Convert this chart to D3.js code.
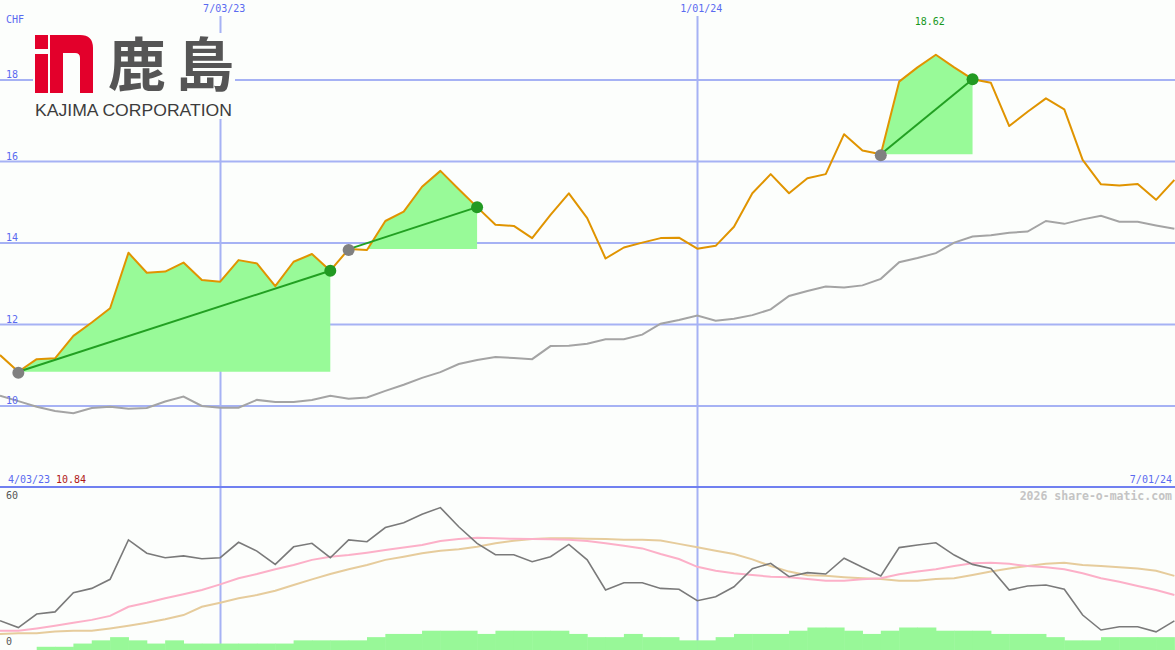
<!DOCTYPE html>
<html>
<head>
<meta charset="utf-8">
<script src="https://cdn.jsdelivr.net/npm/d3@7"></script>
<style>
  body { margin: 0; background: #fcfefc; }
  svg { display: block; }
</style>
</head>
<body>
<svg width="1175" height="650"></svg>
<script>
// weekly closes, CHF (Mondays 10 Apr 2023 .. 1 Jul 2024)
var price = [11.25, 10.84, 11.15, 11.17, 11.72, 12.05, 12.40, 13.76, 13.27, 13.30,
             13.52, 13.09, 13.05, 13.58, 13.50, 12.94, 13.54, 13.73, 13.32, 13.85,
             13.83, 14.54, 14.77, 15.38, 15.77, 15.32, 14.88, 14.45, 14.42, 14.12,
             14.69, 15.22, 14.61, 13.62, 13.89, 14.01, 14.12, 14.13, 13.86, 13.93,
             14.40, 15.22, 15.69, 15.22, 15.59, 15.69, 16.67, 16.27, 16.18, 17.96,
             18.31, 18.62, 18.31, 18.02, 17.93, 16.87, 17.22, 17.55, 17.28, 16.04,
             15.44, 15.41, 15.45, 15.06, 15.55];
// slow average (grey)
var avg = [10.25, 10.12, 9.98, 9.88, 9.82, 9.95, 9.98, 9.93, 9.95, 10.11,
           10.23, 10.00, 9.96, 9.96, 10.15, 10.10, 10.10, 10.15, 10.25, 10.18,
           10.21, 10.37, 10.52, 10.69, 10.83, 11.03, 11.13, 11.20, 11.18, 11.15,
           11.47, 11.48, 11.53, 11.64, 11.64, 11.75, 12.02, 12.11, 12.22, 12.09,
           12.14, 12.23, 12.37, 12.70, 12.82, 12.93, 12.91, 12.96, 13.12, 13.53,
           13.63, 13.75, 14.01, 14.16, 14.19, 14.25, 14.28, 14.54, 14.47, 14.58,
           14.67, 14.52, 14.52, 14.43, 14.35];
// lower panel (0..60)
var osc = [11.0, 8.4, 13.5, 14.3, 21.5, 23.1, 26.5, 41.3, 36.3, 34.6,
           35.3, 34.2, 34.6, 40.4, 37.1, 32.1, 38.7, 40.0, 34.6, 41.3,
           40.6, 45.9, 47.7, 50.9, 53.4, 46.2, 40.0, 35.7, 35.7, 33.1,
           35.0, 39.6, 33.8, 22.5, 25.2, 25.2, 23.1, 22.8, 18.5, 20.0,
           23.7, 30.5, 32.5, 27.5, 29.0, 28.5, 34.4, 31.0, 27.8, 38.4,
           39.4, 40.2, 35.6, 32.1, 30.6, 22.5, 24.0, 24.4, 22.8, 13.1,
           7.5, 8.7, 8.7, 6.8, 10.9];
var oscFast = [7.2, 7.2, 8.1, 9.1, 10.2, 11.3, 12.8, 16.2, 17.7, 19.4,
               20.9, 22.5, 24.6, 26.9, 28.5, 30.3, 31.9, 33.8, 35.0, 35.6,
               36.5, 37.5, 38.4, 39.4, 40.9, 41.6, 42.1, 41.9, 41.7, 41.6,
               41.5, 41.3, 40.9, 40.0, 39.1, 38.1, 36.0, 34.1, 31.2, 29.7,
               28.8, 28.1, 27.5, 27.3, 26.6, 26.0, 26.0, 26.5, 26.9, 28.4,
               29.4, 30.3, 31.5, 32.5, 32.7, 32.3, 31.5, 31.0, 30.3, 28.8,
               26.9, 25.6, 24.0, 22.5, 20.6];
var oscSlow = [6.0, 6.3, 6.3, 6.9, 7.2, 7.2, 8.1, 9.1, 10.2, 11.5,
               13.1, 16.2, 17.7, 19.4, 20.6, 22.2, 24.4, 26.5, 28.5, 30.3,
               31.9, 33.8, 35.0, 36.3, 37.2, 37.8, 38.7, 40.0, 41.0, 41.6,
               41.9, 41.9, 41.7, 41.6, 41.3, 41.3, 41.1, 39.8, 38.5, 37.2,
               36.0, 34.0, 31.5, 29.4, 28.0, 27.8, 27.3, 26.9, 26.6, 26.0,
               26.0, 26.6, 26.9, 28.1, 29.4, 30.6, 31.5, 32.3, 32.7, 31.9,
               31.5, 31.0, 30.6, 29.7, 27.8];
// relative weekly volume, one per week interval
var volume = [0, 0, 1, 1, 2, 3, 4, 3, 2, 3,
              2, 2, 2, 2, 2, 2, 3, 3, 3, 3,
              4, 5, 5, 6, 6, 6, 5, 6, 6, 6,
              6, 5, 4, 4, 5, 4, 4, 3, 3, 4,
              5, 5, 5, 6, 7, 7, 6, 5, 6, 7,
              7, 6, 6, 6, 5, 5, 5, 4, 3, 3,
              4, 4, 4, 4];
// rising stretches (start week, end week)
var gains = [[1, 18], [19, 26], [48, 53]];
var priceTicks = [10, 12, 14, 16, 18];
var gridDates = [new Date(2023, 6, 3), new Date(2024, 0, 1)];
var startLabel = "4/03/23", endLabel = "7/01/24", lowLabel = "10.84";

var dates = d3.timeMonday.range(new Date(2023, 3, 10), new Date(2024, 6, 2));

var svg = d3.select("svg"),
    W = 1175, H = 650,
    mono = "'DejaVu Sans Mono', monospace",
    grid = "#a6b2f4", blue = "#5a6af0";

var x = d3.scaleTime()
    .domain([dates[0], dates[dates.length - 1]])
    .range([0, 1174.4]);
var y = d3.scaleLinear().domain([10, 18]).range([406, 80]);
var y2 = d3.scaleLinear().domain([0, 60]).range([650, 490]);
var yVol = d3.scaleLinear().domain([0, 7]).range([650, 627.5]);

// grid
svg.append("g").selectAll("line")
  .data(priceTicks)
  .enter().append("line")
    .attr("x1", 0).attr("x2", W)
    .attr("y1", function(d) { return y(d); })
    .attr("y2", function(d) { return y(d); })
    .attr("stroke", grid).attr("stroke-width", 2);

svg.append("g").selectAll("line")
  .data(gridDates)
  .enter().append("line")
    .attr("x1", function(d) { return Math.round(x(d)) + 0.5; })
    .attr("x2", function(d) { return Math.round(x(d)) + 0.5; })
    .attr("y1", 16).attr("y2", H)
    .attr("stroke", grid).attr("stroke-width", 2);

// volume bars
svg.append("g").selectAll("rect")
  .data(volume)
  .enter().append("rect")
    .attr("x", function(d, i) { return x(dates[i]); })
    .attr("width", function(d, i) { return x(dates[i + 1]) - x(dates[i]) + 0.5; })
    .attr("y", function(d) { return yVol(d); })
    .attr("height", function(d) { return 650 - yVol(d); })
    .attr("fill", "#98f898");

// gain areas
gains.forEach(function(g) {
  var s = g[0], e = g[1], idx = d3.range(s, e + 1);
  var area = d3.area()
      .x(function(i) { return x(dates[i]); })
      .y0(y(price[s]))
      .y1(function(i) { return y(price[i]); });
  svg.append("path").datum(idx)
      .attr("fill", "#98fa98")
      .attr("d", area);
});

function series(vals, scale) {
  return d3.line()
    .x(function(d, i) { return x(dates[i]); })
    .y(function(d) { return scale(d); })(vals);
}

// lower panel lines
svg.append("path").attr("d", series(oscSlow, y2))
    .attr("fill", "none").attr("stroke", "#e6cc9c").attr("stroke-width", 2);
svg.append("path").attr("d", series(oscFast, y2))
    .attr("fill", "none").attr("stroke", "#fcb0c8").attr("stroke-width", 2);
svg.append("path").attr("d", series(osc, y2))
    .attr("fill", "none").attr("stroke", "#7a7a7a").attr("stroke-width", 1.6);

// main panel lines
svg.append("path").attr("d", series(avg, y))
    .attr("fill", "none").attr("stroke", "#a4a4a4").attr("stroke-width", 2);
svg.append("path").attr("d", series(price, y))
    .attr("fill", "none").attr("stroke", "#e09400").attr("stroke-width", 2)
    .attr("stroke-linejoin", "round");

gains.forEach(function(g) {
  var s = g[0], e = g[1];
  svg.append("line")
      .attr("x1", x(dates[s])).attr("y1", y(price[s]))
      .attr("x2", x(dates[e])).attr("y2", y(price[e]))
      .attr("stroke", "#22a022").attr("stroke-width", 2);
  svg.append("circle")
      .attr("cx", x(dates[s])).attr("cy", y(price[s]) + 1).attr("r", 6)
      .attr("fill", "#808080");
  svg.append("circle")
      .attr("cx", x(dates[e])).attr("cy", y(price[e])).attr("r", 6)
      .attr("fill", "#229a22");
});

// separator
svg.append("line")
    .attr("x1", 0).attr("x2", W).attr("y1", 487).attr("y2", 487)
    .attr("stroke", "#7080f0").attr("stroke-width", 2);

// labels
function label(t, px, py, col, anchor) {
  return svg.append("text").text(t)
      .attr("x", px).attr("y", py)
      .attr("fill", col)
      .attr("font-family", mono).attr("font-size", "10px")
      .attr("text-anchor", anchor || "start");
}
label("CHF", 6, 23, blue);
priceTicks.forEach(function(t) { label(String(t), 6, y(t) - 2, blue); });
var fmt = d3.timeFormat("%-m/%d/%y");
gridDates.forEach(function(d) { label(fmt(d), x(d) + 4, 12, blue, "middle"); });
label(startLabel, 8, 483, blue);
label(lowLabel, 56, 483, "#b01818");
label(endLabel, 1172, 483, blue, "end");
var peak = d3.maxIndex(price);
label(d3.format(".2f")(price[peak]), x(dates[peak]) - 6, 25, "#18981c", "middle");
label("60", 6, 499, "#555", "start");
label("0", 6, 645, "#555", "start");
label("2026 share-o-matic.com", 1172, 500, "#c4c4c4", "end")
    .attr("font-weight", "bold").attr("font-size", "11.5px");

// logo
var logo = svg.append("g");
logo.append("rect").attr("x", 33).attr("y", 33).attr("width", 202).attr("height", 86)
    .attr("fill", "#fcfefc");
logo.append("rect").attr("x", 35).attr("y", 35).attr("width", 13).attr("height", 14)
    .attr("fill", "#e3002b");
logo.append("rect").attr("x", 35).attr("y", 54).attr("width", 13).attr("height", 39)
    .attr("fill", "#e3002b");
logo.append("path")
    .attr("d", "M50,35 H80 Q93,35 93,48 V93 H80 V58 Q80,53 75,53 H63 V93 H50 Z")
    .attr("fill", "#e3002b");
logo.append("text").text("鹿島")
    .attr("x", 108).attr("y", 86)
    .attr("font-family", "'Noto Sans CJK JP', sans-serif")
    .attr("font-weight", 700).attr("font-size", "58px")
    .attr("textLength", 126).attr("lengthAdjust", "spacing")
    .attr("fill", "#555555");
logo.append("text").text("KAJIMA CORPORATION")
    .attr("x", 35).attr("y", 116)
    .attr("font-family", "'Liberation Sans', Arial, sans-serif")
    .attr("font-size", "17px")
    .attr("textLength", 197).attr("lengthAdjust", "spacingAndGlyphs")
    .attr("fill", "#3c3c3c");
</script>
</body>
</html>
